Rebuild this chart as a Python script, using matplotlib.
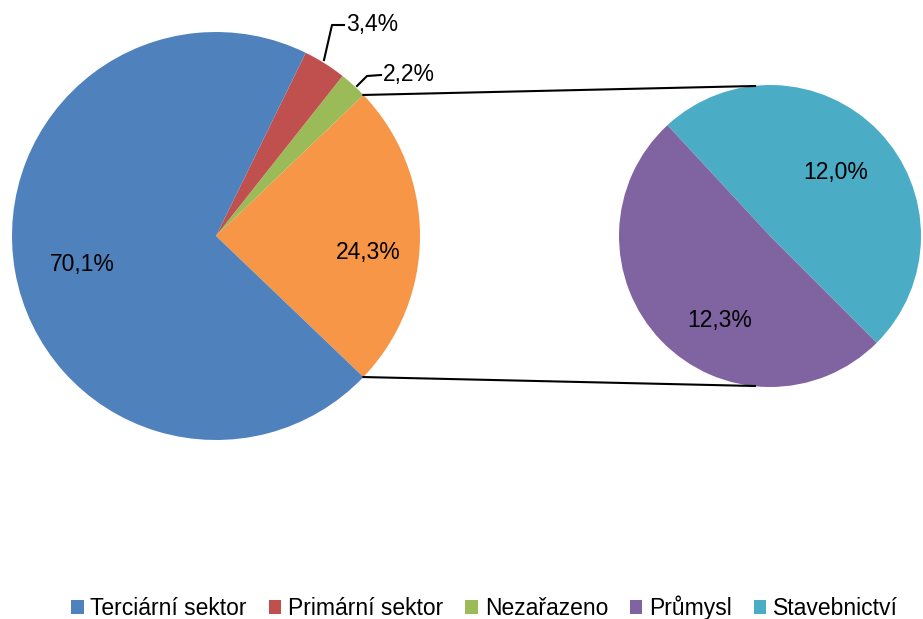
import numpy as np
import matplotlib
matplotlib.use("Agg")
import matplotlib.pyplot as plt
from matplotlib.patches import Patch

plt.rcParams['font.family'] = ['Liberation Sans', 'DejaVu Sans']

# main pie (orange slice = the split-off part)
main_labels = ["Ostatní", "Nezařazeno", "Primární sektor", "Terciární sektor"]
main_values = [24.3, 2.2, 3.4, 70.1]
main_colors = ["#F79646", "#9BBB59", "#C0504D", "#4F81BD"]

# secondary pie
sub_labels = ["Stavebnictví", "Průmysl"]
sub_values = [12.0, 12.3]
sub_colors = ["#4BACC6", "#8064A2"]

legend_labels = ["Terciární sektor", "Primární sektor", "Nezařazeno", "Průmysl", "Stavebnictví"]
legend_colors = ["#4F81BD", "#C0504D", "#9BBB59", "#8064A2", "#4BACC6"]

W, H = 923, 619
fig = plt.figure(figsize=(W / 100, H / 100), dpi=100)
ax = fig.add_axes([0, 0, 1, 1])

c1, r1 = (216, 383), 204
c2, r2 = (770, 383), 151

start1 = -main_values[0] / 2 * 3.6
ax.pie(main_values, colors=main_colors, startangle=start1, counterclock=True,
       center=c1, radius=r1, frame=True, wedgeprops=dict(linewidth=0))
ax.pie(sub_values, colors=sub_colors, startangle=-45, counterclock=True,
       center=c2, radius=r2, frame=True, wedgeprops=dict(linewidth=0))
ax.set_xlim(0, W)
ax.set_ylim(0, H)
ax.set_aspect("equal")
ax.axis("off")

# connector lines
a_top = np.deg2rad(start1 + main_values[0] * 3.6)
a_bot = np.deg2rad(start1)
ax.plot([c1[0] + r1 * np.cos(a_top), c2[0] - 15], [c1[1] + r1 * np.sin(a_top), c2[1] + r2 - 1],
        color="black", lw=1.5)
ax.plot([c1[0] + r1 * np.cos(a_bot), c2[0] - 15], [c1[1] + r1 * np.sin(a_bot), c2[1] - r2 + 1],
        color="black", lw=1.5)

def pct(v):
    return f"{v:.1f}%".replace(".", ",")

fs = 16.5
ax.text(82, 354, pct(main_values[3]), fontsize=fs, ha="center", va="center")
ax.text(368, 366, pct(main_values[0]), fontsize=fs, ha="center", va="center")
ax.text(836, 447, pct(sub_values[0]), fontsize=fs, ha="center", va="center")
ax.text(720, 299, pct(sub_values[1]), fontsize=fs, ha="center", va="center")

# labels with leader lines for small slices
ax.plot([324, 332, 344], [559, 594, 594], color="black", lw=1.5)
ax.text(346, 594, pct(main_values[2]), fontsize=fs, ha="left", va="center")
ax.plot([357, 367, 381], [533, 543, 544], color="black", lw=1.5)
ax.text(383, 544, pct(main_values[1]), fontsize=fs, ha="left", va="center")

handles = [Patch(facecolor=c, edgecolor="none") for c in legend_colors]
fig.legend(handles, legend_labels, loc="lower center", bbox_to_anchor=(0.525, -0.035),
           ncol=5, frameon=False, fontsize=16.5, handlelength=0.55, handleheight=0.55,
           handletextpad=0.3, columnspacing=0.95)

fig.savefig("out.png", dpi=100)
